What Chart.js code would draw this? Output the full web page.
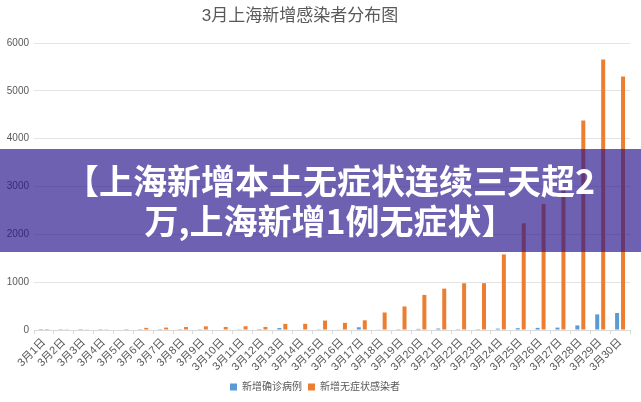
<!DOCTYPE html>
<html>
<head>
<meta charset="utf-8">
<script src="https://cdn.jsdelivr.net/npm/chart.js@4"></script>
<style>
html,body{margin:0;padding:0;background:#fff}
#wrap{position:relative;width:641px;height:402px}
#banner{position:absolute;left:0;top:149px;width:641px;height:103px;box-sizing:border-box;padding:11px 0 0 19px;
background:rgba(40,20,140,0.67);color:#fff;font:700 34px/40px 'Noto Sans CJK SC',sans-serif;text-align:center}
</style>
</head>
<body>
<div id="wrap">
<canvas id="grafico" width="641" height="402"></canvas>
<div id="banner">【上海新增本土无症状连续三天超2<br>万,上海新增1例无症状】</div>
</div>
<script>
// fechas de marzo
const fechas=["3月1日","3月2日","3月3日","3月4日","3月5日","3月6日","3月7日","3月8日","3月9日","3月10日",
"3月11日","3月12日","3月13日","3月14日","3月15日","3月16日","3月17日","3月18日","3月19日","3月20日",
"3月21日","3月22日","3月23日","3月24日","3月25日","3月26日","3月27日","3月28日","3月29日","3月30日"]

// 新增确诊病例
const confirmados=[1,3,2,3,0,3,3,3,4,11,5,1,41,9,5,8,57,8,17,24,31,4,4,29,38,45,50,96,326,355]

// 新增无症状感染者
const asintomaticos=[1,5,14,16,2,45,51,62,76,64,78,64,128,130,197,150,203,366,492,734,865,977,979,1580,2231,2631,2940,4381,5656,5298]

const ticksY=[0,1000,2000,3000,4000,5000,6000]

const titulo="3月上海新增感染者分布图"
const fuente="'Liberation Sans','Noto Sans CJK SC',sans-serif"
const gris="#595959"

// el titulo va un poco a la izquierda, como en el original
const tituloPlugin={
id:"titulo",
afterDraw(chart){
const c=chart.ctx
c.save()
c.font="17px "+fuente
c.fillStyle=gris
c.textAlign="center"
c.textBaseline="middle"
c.fillText(titulo,300,16)
c.restore()
}
}

new Chart(document.getElementById("grafico"),{
type:"bar",
data:{
labels:fechas,
datasets:[
{label:"新增确诊病例",data:confirmados,backgroundColor:"#5b9bd5"},
{label:"新增无症状感染者",data:asintomaticos,backgroundColor:"#ed7d31"}
]
},
plugins:[tituloPlugin],
options:{
responsive:false,
animation:false,
categoryPercentage:0.6,
barPercentage:0.67,
layout:{padding:{left:0,right:11,top:43,bottom:0}},
plugins:{
title:{display:false},
legend:{position:"bottom",labels:{boxWidth:7,boxHeight:7,color:gris,font:{size:10,family:fuente},padding:6}},
tooltip:{enabled:false}
},
scales:{
x:{
grid:{drawOnChartArea:false,color:"#d9d9d9",tickLength:4},
border:{color:"#d9d9d9"},
ticks:{color:gris,font:{size:11,family:fuente},minRotation:45,maxRotation:45,autoSkip:false,padding:2},
afterFit(s){s.height=46}
},
y:{
min:ticksY[0],max:ticksY[ticksY.length-1],
afterBuildTicks(s){s.ticks=ticksY.map(v=>({value:v}))},
ticks:{color:gris,font:{size:10,family:fuente},padding:5,callback:v=>String(v)},
grid:{color:"#e3e3e3",drawTicks:false},
border:{display:false},
afterFit(s){s.width=34}
}
}
}
})
</script>
</body>
</html>
